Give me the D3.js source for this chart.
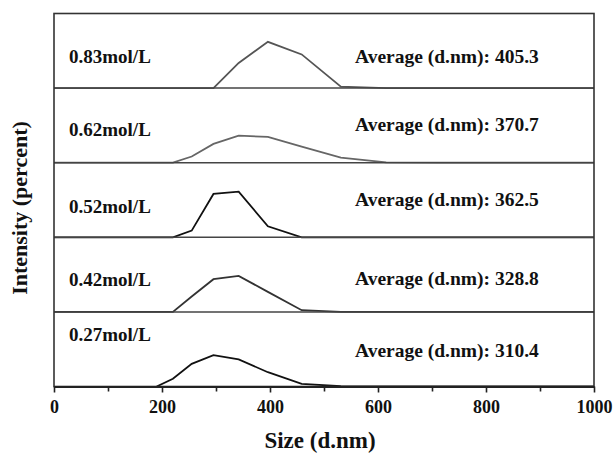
<!DOCTYPE html>
<html>
<head>
<meta charset="utf-8">
<script src="https://cdn.jsdelivr.net/npm/d3@7"></script>
<style>
  html, body { margin: 0; padding: 0; background: #fff; }
  svg { display: block; }
  text { font-family: "Liberation Serif", "Times New Roman", serif; font-weight: bold; fill: #111; }
</style>
</head>
<body>
<svg id="chart" width="615" height="453"></svg>
<script>
// Size bins (d.nm) of the DLS intensity distribution
const sizeBins = [0.4, 164.2, 190.1, 220.2, 255.0, 295.3, 342.0, 396.1, 458.7, 531.2, 615.1, 712.4, 825.0, 955.4, 1106];

// Sample concentrations, top panel first
const concentrations = ["0.83mol/L", "0.62mol/L", "0.52mol/L", "0.42mol/L", "0.27mol/L"];

// Z-average diameters (d.nm)
const averages = [405.3, 370.7, 362.5, 328.8, 310.4];

// Intensity (percent) per size bin; null = no reading in that bin
const intensity083 = [0, 0, 0, 0, 0, 0, 23.6, 43.4, 31.6, 1.4, 0, 0, 0, 0, 0];
const intensity062 = [0, 0, 0, 0, 5.8, 17.6, 25.4, 24.2, 15.0, 4.8, 0.3, 0, 0, 0, 0];
const intensity052 = [0, 0, 0, 0, 6.3, 40.7, 42.9, 10.3, 0, 0, 0, 0, 0, 0, 0];
const intensity042 = [0, 0, 0, 0, 14.4, 30.7, 33.8, 18.8, 1.6, 0, 0, 0, 0, 0, 0];
const intensity027 = [null, null, 0, 7.2, 21.3, 29.4, 25.4, 13.4, 2.5, 0.3, 0, 0, 0, 0, 0];

const seriesValues = [intensity083, intensity062, intensity052, intensity042, intensity027];

// Axis ticks
const xMajorTicks = [0, 200, 400, 600, 800, 1000];
const xMinorTicks = [100, 300, 500, 700, 900];

// ---- layout ----
const plot = { left: 54, right: 594, top: 13.5, bottom: 386.5 };
const panelH = (plot.bottom - plot.top) / seriesValues.length;
const lineColors = ["#555", "#666", "#111", "#333", "#111"];
const labelY = [56, 129, 206, 279, 334];
const avgY = [56, 124, 199, 278, 350];

const svg = d3.select("#chart");

const x = d3.scaleLinear().domain([0, 1000]).range([plot.left, plot.right]);

svg.append("defs").append("clipPath").attr("id", "plotClip")
  .append("rect")
  .attr("x", plot.left).attr("y", plot.top)
  .attr("width", plot.right - plot.left).attr("height", plot.bottom - plot.top);

const linesG = svg.append("g").attr("clip-path", "url(#plotClip)");

seriesValues.forEach((vals, i) => {
  const y0 = plot.top + (i + 1) * panelH;
  const y = d3.scaleLinear().domain([0, 70]).range([y0, y0 - panelH]);
  const pts = sizeBins.map((s, j) => ({ s, v: vals[j] }));
  const line = d3.line()
    .defined(d => d.v != null)
    .x(d => x(d.s))
    .y(d => y(d.v));
  linesG.append("path")
    .datum(pts)
    .attr("d", line)
    .attr("fill", "none")
    .attr("stroke", lineColors[i])
    .attr("stroke-width", 1.8)
    .attr("stroke-linejoin", "miter");

  // panel divider
  if (i < seriesValues.length - 1) {
    svg.append("line")
      .attr("x1", plot.left).attr("x2", plot.right)
      .attr("y1", y0).attr("y2", y0)
      .attr("stroke", "#444").attr("stroke-width", 1.5);
  }

  svg.append("text")
    .attr("x", 69).attr("y", labelY[i])
    .attr("dominant-baseline", "central")
    .style("font-size", "19px")
    .text(concentrations[i]);

  svg.append("text")
    .attr("x", 355).attr("y", avgY[i])
    .attr("dominant-baseline", "central")
    .style("font-size", "19.5px")
    .text("Average (d.nm): " + averages[i]);
});

// frame
svg.append("rect")
  .attr("x", plot.left).attr("y", plot.top)
  .attr("width", plot.right - plot.left).attr("height", plot.bottom - plot.top)
  .attr("fill", "none").attr("stroke", "#333").attr("stroke-width", 1.6);

// bottom axis
const axisG = svg.append("g")
  .attr("transform", `translate(0,${plot.bottom})`)
  .call(d3.axisBottom(x).tickValues(xMajorTicks).tickFormat(d3.format("d"))
    .tickSize(6).tickSizeOuter(0).tickPadding(8));
axisG.select(".domain").attr("stroke", "#222").attr("stroke-width", 1.8);
axisG.selectAll(".tick line").attr("stroke", "#222").attr("stroke-width", 1.6);
axisG.selectAll(".tick text")
  .style("font-size", "18px")
  .style("font-family", "'Liberation Serif', 'Times New Roman', serif")
  .style("font-weight", "bold")
  .attr("fill", "#111");

const minorG = svg.append("g")
  .attr("transform", `translate(0,${plot.bottom})`)
  .call(d3.axisBottom(x).tickValues(xMinorTicks).tickFormat("").tickSize(5).tickSizeOuter(0));
minorG.select(".domain").remove();
minorG.selectAll(".tick line").attr("stroke", "#222").attr("stroke-width", 1.6);

// axis titles
svg.append("text")
  .attr("x", (plot.left + plot.right) / 2 - 4).attr("y", 440)
  .attr("text-anchor", "middle")
  .attr("dominant-baseline", "central")
  .style("font-size", "23px")
  .text("Size (d.nm)");

svg.append("text")
  .attr("transform", `translate(19,${(plot.top + plot.bottom) / 2 + 8}) rotate(-90)`)
  .attr("text-anchor", "middle")
  .attr("dominant-baseline", "central")
  .style("font-size", "22px")
  .text("Intensity (percent)");
</script>
</body>
</html>
